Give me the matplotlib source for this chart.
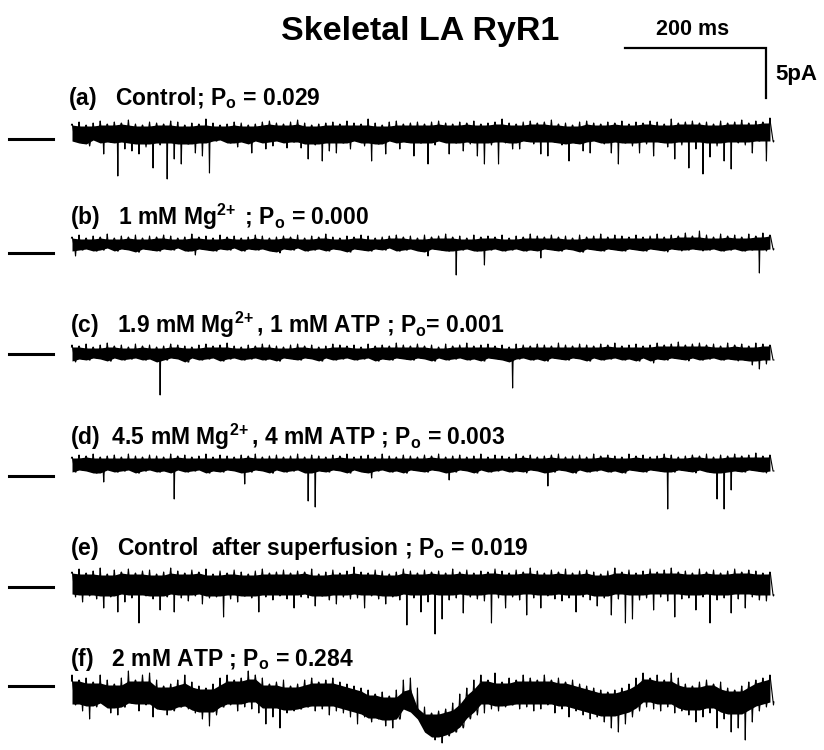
import numpy as np
import matplotlib.pyplot as plt

plt.rcParams['font.family'] = 'Liberation Sans'
plt.rcParams['font.weight'] = 'bold'
plt.rcParams['mathtext.fontset'] = 'custom'
plt.rcParams['mathtext.rm'] = 'Liberation Sans:bold'
plt.rcParams['mathtext.it'] = 'Liberation Sans:bold'
plt.rcParams['mathtext.bf'] = 'Liberation Sans:bold'

# --- data: sample times (ms) and upper / lower envelope of each trace (pA, closed level = 0)
t_ms = np.arange(100) * 10.0

a_hi = [0.7, 0.9, 0.6, 0.8, 1.0, 0.7, 0.9, 0.8, 1.1, 0.7,
        0.6, 0.9, 0.8, 0.7, 1.0, 0.9, 0.6, 0.8, 0.7, 1.2,
        0.8, 0.6, 0.7, 0.9, 0.8, 0.6, 0.7, 0.9, 1.0, 0.8,
        0.7, 0.9, 1.1, 0.8, 0.6, 0.7, 0.8, 0.9, 0.7, 1.0,
        0.8, 0.7, 1.2, 0.8, 0.6, 0.9, 1.0, 0.7, 0.8, 0.9,
        0.7, 0.9, 1.0, 0.8, 0.7, 0.9, 0.8, 1.0, 0.7, 0.8,
        0.9, 1.2, 0.8, 0.7, 0.9, 1.0, 0.8, 0.9, 1.1, 0.7,
        0.8, 0.6, 0.9, 1.0, 0.8, 0.7, 0.9, 0.8, 1.0, 0.7,
        0.9, 0.8, 1.0, 0.9, 0.7, 1.2, 0.8, 0.9, 1.0, 0.8,
        0.9, 0.7, 1.0, 0.8, 0.9, 1.1, 0.8, 1.0, 0.9, 1.3]
a_lo = [-1.0, -1.2, -1.5, -0.9, -2.3, -1.1, -4.5, -1.8, -2.0, -2.3,
        -1.6, -3.7, -1.4, -4.8, -2.8, -3.3, -1.3, -2.2, -2.5, -4.2,
        -1.0, -0.9, -1.2, -1.6, -1.1, -2.2, -1.0, -1.8, -1.5, -1.0,
        -1.7, -1.1, -1.7, -2.8, -1.4, -3.0, -2.0, -2.2, -1.2, -1.8,
        -1.0, -1.5, -3.0, -1.3, -2.3, -1.0, -1.8, -1.1, -2.5, -1.2,
        -3.3, -1.4, -1.0, -2.3, -1.2, -2.0, -1.3, -2.5, -3.3, -1.4,
        -3.3, -1.2, -1.8, -1.8, -1.0, -1.3, -2.3, -2.5, -1.1, -1.4,
        -3.0, -1.2, -2.0, -2.2, -1.0, -1.3, -2.2, -3.3, -1.2, -1.5,
        -2.2, -1.3, -2.5, -1.1, -1.6, -2.8, -1.4, -3.7, -1.8, -4.3,
        -2.6, -1.5, -3.0, -3.8, -1.2, -1.4, -2.2, -1.0, -3.0, -1.1]

b_hi = [0.6, 0.8, 0.5, 0.7, 0.6, 0.9, 0.5, 0.7, 0.6, 0.8,
        0.5, 0.7, 0.6, 0.8, 0.7, 0.5, 0.6, 0.9, 0.6, 0.7,
        0.5, 0.8, 0.6, 0.7, 0.5, 0.6, 0.8, 0.7, 0.5, 0.6,
        0.7, 0.6, 0.8, 0.5, 0.7, 0.6, 0.9, 0.6, 0.5, 0.7,
        0.6, 0.8, 0.7, 0.5, 0.6, 0.7, 0.8, 0.6, 0.7, 0.5,
        0.8, 0.6, 0.7, 0.9, 0.6, 0.7, 0.5, 0.8, 0.6, 0.7,
        0.6, 0.8, 0.5, 0.7, 0.6, 0.9, 0.7, 0.6, 0.8, 0.6,
        0.7, 0.5, 0.8, 0.6, 0.7, 0.9, 0.6, 0.8, 0.7, 0.6,
        0.8, 0.6, 0.7, 0.9, 0.6, 0.8, 0.7, 1.0, 0.7, 1.2,
        0.8, 0.6, 0.9, 0.7, 0.8, 0.6, 0.9, 0.7, 1.0, 0.8]
b_lo = [-1.3, -0.7, -0.6, -0.8, -0.7, -0.5, -0.8, -0.6, -0.7, -0.9,
        -0.6, -0.7, -0.8, -0.6, -0.7, -0.5, -0.8, -1.2, -0.6, -0.7,
        -0.8, -0.6, -0.7, -0.5, -0.8, -0.6, -0.7, -0.6, -0.8, -1.0,
        -0.6, -0.7, -0.5, -0.8, -0.7, -0.6, -0.8, -0.6, -0.7, -0.9,
        -0.6, -0.7, -0.8, -0.6, -0.7, -0.5, -0.8, -0.7, -0.6, -0.8,
        -1.3, -0.6, -0.7, -0.8, -3.2, -0.7, -0.6, -0.8, -2.2, -0.7,
        -0.6, -0.8, -0.7, -0.6, -0.8, -0.7, -1.5, -0.6, -0.7, -0.8,
        -0.6, -0.7, -0.9, -0.6, -0.7, -0.8, -0.6, -0.7, -0.8, -0.6,
        -0.7, -0.8, -0.6, -0.7, -0.9, -0.6, -0.8, -0.7, -0.6, -0.8,
        -0.7, -0.6, -0.8, -0.7, -0.6, -0.8, -0.7, -3.0, -0.8, -0.7]

c_hi = [0.7, 0.6, 0.8, 0.5, 0.7, 0.9, 0.6, 0.7, 0.5, 0.8,
        0.6, 0.7, 0.5, 0.6, 0.8, 0.7, 0.6, 0.5, 0.7, 0.8,
        0.6, 0.7, 0.9, 0.6, 0.5, 0.7, 0.6, 0.8, 0.7, 0.6,
        0.5, 0.7, 0.8, 0.6, 0.7, 0.5, 0.6, 0.8, 0.7, 0.6,
        0.7, 0.5, 0.8, 0.6, 0.7, 0.6, 0.9, 0.7, 0.6, 0.8,
        0.6, 0.7, 0.5, 0.8, 0.6, 0.7, 0.9, 0.6, 0.7, 0.8,
        0.6, 0.7, 0.5, 0.8, 0.7, 0.6, 0.8, 0.7, 0.6, 0.9,
        0.7, 0.6, 0.8, 0.7, 0.6, 0.8, 0.7, 0.9, 0.6, 0.7,
        0.8, 0.6, 0.7, 0.9, 0.7, 0.8, 1.0, 0.7, 0.8, 0.9,
        0.7, 0.8, 0.6, 0.9, 0.7, 0.8, 0.6, 0.9, 0.8, 0.7]
c_lo = [-1.0, -0.7, -0.8, -0.6, -0.7, -0.9, -0.6, -0.8, -0.7, -0.6,
        -0.8, -0.7, -4.3, -0.8, -0.6, -0.7, -1.0, -0.6, -0.8, -0.7,
        -0.6, -0.9, -0.7, -0.6, -0.8, -0.7, -0.6, -0.8, -0.7, -0.9,
        -0.6, -0.7, -0.8, -0.6, -0.7, -0.9, -0.6, -0.8, -0.7, -0.6,
        -0.8, -0.7, -0.6, -0.9, -0.7, -0.8, -0.6, -0.7, -0.8, -0.6,
        -0.7, -0.9, -0.6, -0.8, -0.7, -0.6, -0.8, -0.7, -0.9, -0.6,
        -0.7, -0.8, -3.6, -0.7, -0.6, -0.8, -0.7, -0.9, -0.6, -0.7,
        -0.8, -0.6, -0.7, -0.9, -0.6, -0.8, -0.7, -0.6, -0.8, -0.7,
        -0.9, -0.6, -1.1, -0.7, -0.8, -0.6, -0.7, -0.9, -0.6, -0.8,
        -0.7, -0.6, -0.8, -0.7, -0.9, -0.8, -1.3, -1.7, -1.2, -0.8]

d_hi = [0.6, 0.8, 0.7, 0.9, 0.6, 0.7, 0.8, 0.6, 0.9, 0.7,
        0.6, 0.8, 0.7, 0.6, 0.9, 0.7, 0.8, 0.6, 0.7, 0.9,
        0.6, 0.8, 0.7, 0.6, 0.8, 0.7, 0.9, 0.6, 0.7, 0.8,
        0.6, 0.7, 0.9, 0.6, 0.8, 0.7, 0.6, 0.8, 0.7, 0.9,
        0.6, 0.7, 0.8, 0.6, 0.9, 0.7, 0.6, 0.8, 0.7, 0.6,
        0.8, 0.7, 0.9, 0.6, 0.7, 0.8, 0.6, 0.7, 0.9, 0.6,
        0.8, 0.7, 0.6, 0.9, 0.7, 0.8, 0.6, 0.7, 0.8, 0.9,
        0.6, 0.7, 0.8, 0.6, 0.9, 0.7, 0.8, 0.7, 0.6, 0.9,
        0.7, 0.8, 0.6, 0.7, 0.9, 0.8, 0.6, 0.7, 0.8, 0.7,
        0.9, 0.6, 0.8, 0.7, 0.9, 0.7, 0.8, 1.0, 0.7, 0.8]
d_lo = [-0.9, -0.7, -0.8, -1.0, -1.9, -0.7, -0.9, -0.8, -0.7, -1.0,
        -0.8, -0.7, -0.9, -0.8, -3.6, -0.7, -0.9, -0.8, -0.7, -1.0,
        -0.8, -0.9, -0.7, -0.8, -2.1, -0.9, -0.7, -0.8, -1.0, -0.7,
        -0.9, -0.8, -0.7, -3.8, -4.4, -0.8, -0.9, -0.7, -0.8, -1.0,
        -0.7, -0.9, -1.5, -0.8, -0.7, -0.9, -0.8, -1.0, -0.7, -0.8,
        -0.9, -0.7, -0.8, -1.7, -0.9, -0.7, -0.8, -1.0, -0.7, -0.9,
        -0.8, -0.7, -0.9, -0.8, -1.0, -0.7, -0.8, -2.3, -0.9, -0.7,
        -0.8, -1.0, -0.7, -0.9, -0.8, -0.7, -0.9, -0.8, -1.0, -0.7,
        -0.8, -0.9, -0.7, -0.8, -4.6, -0.9, -0.7, -0.8, -1.0, -0.7,
        -0.9, -3.6, -4.6, -2.7, -0.8, -0.9, -0.7, -0.8, -1.0, -0.8]

e_hi = [1.0, 1.3, 0.9, 1.1, 1.4, 0.8, 1.2, 1.0, 1.3, 0.9,
        1.1, 1.2, 0.8, 1.0, 1.4, 1.1, 0.9, 1.2, 1.0, 1.3,
        0.8, 1.1, 0.9, 1.2, 1.0, 0.8, 1.1, 1.3, 0.9, 1.0,
        1.2, 0.9, 1.1, 1.0, 1.3, 0.8, 1.0, 1.2, 0.9, 1.1,
        1.5, 1.0, 0.9, 1.2, 1.1, 0.8, 1.0, 1.3, 1.1, 0.9,
        1.2, 1.0, 1.1, 0.9, 1.3, 1.0, 1.2, 0.9, 1.1, 1.0,
        1.3, 1.1, 0.9, 1.2, 1.0, 1.4, 1.1, 0.9, 1.2, 1.0,
        1.3, 0.9, 1.1, 1.2, 1.0, 0.8, 1.1, 1.4, 1.0, 1.2,
        0.9, 1.1, 1.3, 1.0, 1.2, 1.4, 1.0, 1.1, 0.9, 1.3,
        1.0, 1.2, 0.9, 1.1, 1.3, 1.0, 1.2, 1.1, 0.9, 1.0]
e_lo = [-1.5, -2.0, -1.4, -1.7, -2.6, -1.5, -3.0, -2.0, -1.6, -4.1,
        -1.4, -1.7, -2.8, -1.5, -3.0, -1.6, -1.9, -1.4, -2.2, -1.6,
        -1.5, -3.5, -1.7, -2.0, -1.4, -1.6, -3.0, -1.5, -1.8, -1.4,
        -1.7, -2.6, -1.5, -1.6, -2.4, -1.4, -1.8, -2.2, -1.5, -1.7,
        -1.6, -2.6, -1.4, -1.7, -2.2, -1.5, -1.8, -4.3, -1.6, -3.0,
        -2.0, -5.2, -3.7, -1.8, -1.6, -3.1, -1.5, -1.7, -1.9, -4.1,
        -1.6, -2.6, -1.5, -1.8, -3.3, -1.6, -2.6, -1.4, -1.7, -1.9,
        -1.6, -3.0, -1.5, -1.8, -2.4, -1.6, -3.3, -1.7, -4.1, -3.7,
        -1.8, -1.6, -2.8, -1.5, -1.9, -3.5, -1.7, -1.6, -2.8, -1.5,
        -4.1, -1.8, -1.6, -3.1, -1.7, -2.6, -1.5, -1.8, -1.9, -1.4]

f_hi = [1.3, 0.8, 1.0, 0.6, 1.3, 0.8, 0.4, 1.0, 1.7, 0.8,
        1.3, 1.5, 0.8, 0.2, 0.4, 0.8, 1.3, 0.6, 0.2, 0.0,
        0.4, 1.0, 1.3, 0.8, 1.0, 1.7, 1.3, 1.0, 0.4, 0.6,
        0.8, 0.2, 0.4, 0.8, 1.0, 0.6, 0.8, 1.0, 0.6, 0.4,
        0.2, 0.0, -0.2, -0.6, -0.4, -0.8, -0.2, 0.8, 1.0, 0.0,
        -1.9, -2.5, -2.3, -2.1, -1.5, -0.6, 0.0, 0.8, 1.3, 0.8,
        1.5, 0.6, 1.0, 0.8, 1.3, 1.0, 0.8, 1.3, 0.8, 1.0,
        0.6, 0.8, 0.4, 0.2, 0.0, -0.2, -0.4, -0.2, 0.0, 0.4,
        1.0, 1.5, 1.0, 1.3, 0.8, 1.5, 1.0, 0.4, 0.2, 0.6,
        0.8, 0.4, 0.6, 0.0, -0.2, 0.2, 0.6, 0.8, 1.0, 1.3]
f_lo = [-1.7, -2.3, -3.1, -1.9, -1.5, -2.5, -2.7, -1.9, -1.5, -2.3,
        -1.7, -2.9, -2.1, -2.7, -2.3, -1.9, -2.1, -2.5, -3.1, -3.8,
        -2.7, -1.9, -1.7, -2.3, -1.9, -2.1, -2.5, -3.6, -2.9, -4.0,
        -2.5, -2.3, -2.1, -1.9, -2.3, -2.1, -2.7, -2.3, -2.5, -2.9,
        -3.6, -2.9, -3.4, -3.1, -3.8, -4.0, -3.1, -2.1, -2.5, -3.1,
        -4.4, -5.2, -5.5, -4.8, -4.4, -4.0, -3.1, -2.7, -2.5, -2.1,
        -2.3, -1.9, -1.7, -2.1, -1.9, -2.3, -2.1, -1.7, -2.5, -2.1,
        -2.9, -2.3, -2.7, -3.1, -2.9, -3.4, -4.0, -4.4, -3.6, -2.9,
        -2.3, -1.9, -2.1, -2.3, -1.9, -2.5, -2.3, -2.7, -3.4, -2.9,
        -2.5, -4.0, -3.1, -4.4, -4.0, -5.2, -3.4, -2.3, -1.9, -1.7]

labels = [r'(a)   Control; $\mathrm{P_o}$ = 0.029',
          r'(b)   1 mM Mg$^{2\!+}$ ; $\mathrm{P_o}$ = 0.000',
          r'(c)   1.9 mM Mg$^{2\!+}$, 1 mM ATP ; $\mathrm{P_o}$= 0.001',
          r'(d)  4.5 mM Mg$^{2\!+}$, 4 mM ATP ; $\mathrm{P_o}$ = 0.003',
          r'(e)   Control  after superfusion ; $\mathrm{P_o}$ = 0.019',
          r'(f)   2 mM ATP ; $\mathrm{P_o}$ = 0.284']
traces = [(a_hi, a_lo), (b_hi, b_lo), (c_hi, c_lo), (d_hi, d_lo), (e_hi, e_lo), (f_hi, f_lo)]

bar_ms = 200
bar_pa = 5

# --- layout (pixels in the 824x750 figure)
W, H = 824, 750
X0 = 72                     # pixel of t = 0
PX_PER_MS = 141 / 200
PX_PER_PA = 10
closed_y = [131, 243, 352, 463, 582, 688]
marker_y = [139, 253, 354, 476, 587, 686]
label_y = [105, 225, 333, 445, 555, 666]
label_x = [68, 70, 70, 70, 70, 70]
core = [1.8, 1.3, 1.4, 1.5, 2.1, 2.3]   # thickness of the solid noise band (pA)


def px_to_ms(x):
    return (x - X0) / PX_PER_MS


fig = plt.figure(figsize=(W / 100, H / 100), dpi=100)
ax = fig.add_axes([0, 0, 1, 1])
ax.set_xlim(px_to_ms(0), px_to_ms(W))
ax.set_ylim(-H / PX_PER_PA, 0)
ax.axis('off')

for k, (hi, lo) in enumerate(traces):
    hi = np.array(hi)
    lo = np.array(lo)
    off = -closed_y[k] / PX_PER_PA
    # solid band: top follows the lowest of neighbouring upper samples
    hp = np.pad(hi, 1, mode='edge')
    top_core = np.minimum(np.minimum(hp[:-2], hp[1:-1]), hp[2:]) - 0.1
    bot_core = np.maximum(lo, top_core - core[k])
    # needle-like excursions: up to hi, down to lo, around the solid band
    tz = np.column_stack([t_ms - 0.7, t_ms, t_ms + 0.7, t_ms + 4.4, t_ms + 5, t_ms + 5.6]).ravel()
    yz = np.column_stack([top_core, hi, top_core, bot_core, lo, bot_core]).ravel()
    ax.fill_between(t_ms, off + top_core, off + bot_core, color='black', lw=0)
    ax.plot(tz, off + yz, color='black', lw=0.8)
    # closed-level marker
    ym = -marker_y[k] / PX_PER_PA
    ax.plot([px_to_ms(9), px_to_ms(53)], [ym, ym], color='black', lw=2.2)
    fig.text(label_x[k] / W, 1 - label_y[k] / H, labels[k], fontsize=16.5,
             fontweight='bold', va='baseline', ha='left')

# scale bars
bar_end = t_ms[-1] - 5
bar_top = -48 / PX_PER_PA
ax.plot([bar_end - bar_ms, bar_end, bar_end], [bar_top, bar_top, bar_top - bar_pa],
        color='black', lw=1.6, solid_joinstyle='miter')
fig.text(693 / W, 1 - 35 / H, '200 ms', fontsize=15.5, fontweight='bold', ha='center', va='baseline')
fig.text(775 / W, 1 - 80 / H, '5pA', fontsize=16, fontweight='bold', ha='left', va='baseline')

fig.text(420 / W, 1 - 40 / H, 'Skeletal LA RyR1', fontsize=24.5, fontweight='bold', ha='center', va='baseline')

fig.savefig('out.png', dpi=100)
